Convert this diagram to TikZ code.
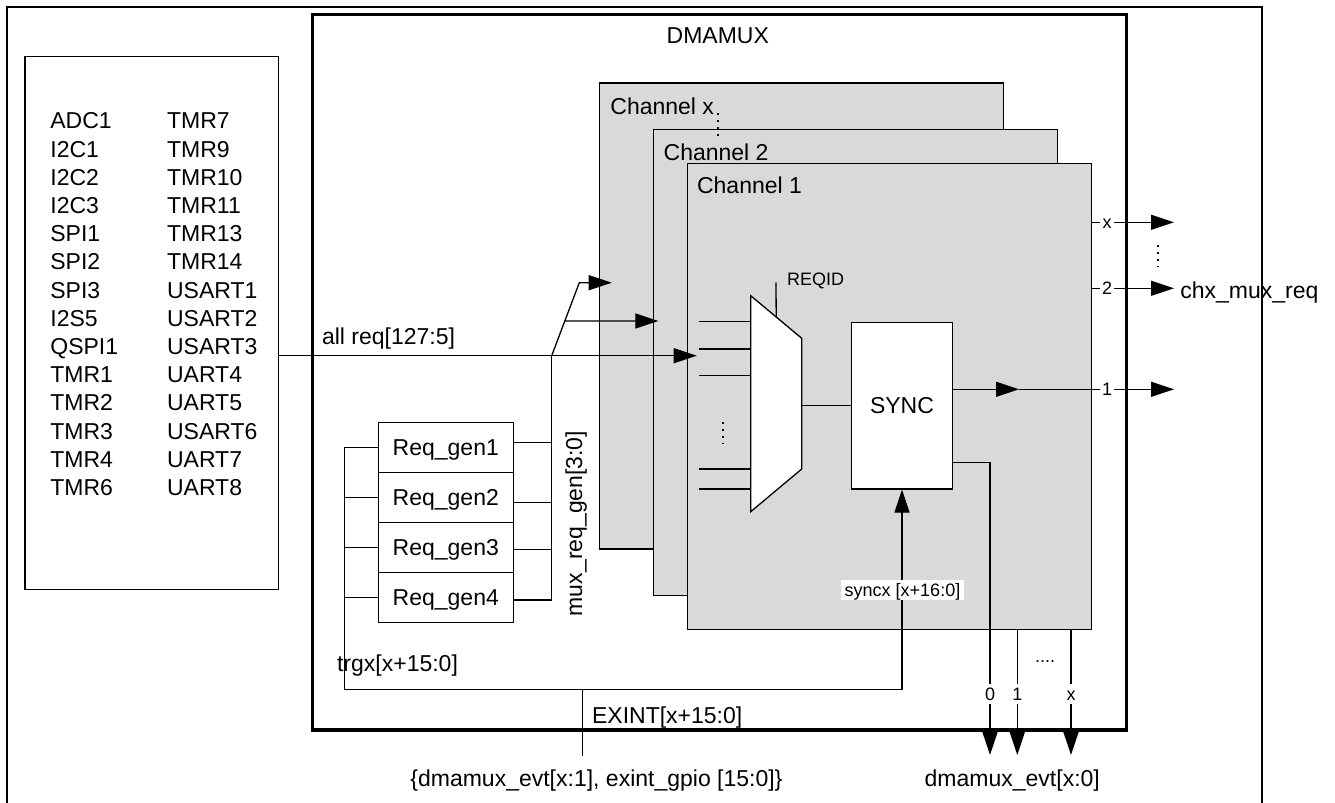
\documentclass[tikz,border=0pt]{standalone}
\usepackage{fontspec}
\setmainfont{Liberation Sans}
\usetikzlibrary{arrows.meta,calc}

\definecolor{chgray}{RGB}{217,217,217}

\tikzset{
  txt/.style={font=\fontsize{11.5}{13}\selectfont, inner sep=0pt, text height=8.2pt, text depth=0pt},
  smalltxt/.style={font=\fontsize{9}{10}\selectfont, inner sep=0pt, text height=6.4pt, text depth=0pt},
  wire/.style={line width=0.65pt},
  arr/.style={wire, -{Triangle[length=11.5pt,width=7.5pt]}},
  vdots/.style={line width=1pt, dash pattern=on 0.9pt off 2.6pt},
  chbox/.style={draw, fill=chgray, line width=0.65pt, minimum width=202pt, minimum height=233pt, anchor=north west, inner sep=0pt},
  genbox/.style={draw, line width=0.65pt, minimum width=67.5pt, minimum height=25pt, txt},
}

\begin{document}
\begin{tikzpicture}[x=0.5pt,y=-0.5pt]
\useasboundingbox (0,0) rectangle (1335,803);
% outer frame
\draw[line width=1pt] (7,815) -- (7,7) -- (1262,7) -- (1262,815);
% request sources
\node[draw, line width=0.65pt, minimum width=126.7pt, minimum height=266.65pt, anchor=north west, inner sep=0pt] (srcs) at (24.3,55.7) {};
\foreach \a/\b [count=\i from 0] in {ADC1/TMR7, I2C1/TMR9, I2C2/TMR10, I2C3/TMR11, SPI1/TMR13, SPI2/TMR14, SPI3/USART1, I2S5/USART2, QSPI1/USART3, TMR1/UART4, TMR2/UART5, TMR3/USART6, TMR4/UART7, TMR6/UART8} {
  \node[txt, anchor=west] (srca\i) at (50,{120.7+28.2*\i}) {\a};
  \node[txt, anchor=west] (srcb\i) at (166.7,{120.7+28.2*\i}) {\b};
}
% DMAMUX block
\node[draw, line width=1.6pt, minimum width=407.15pt, minimum height=357.8pt, anchor=north west, inner sep=0pt] (dmamux) at (310.7,12.7) {};
\node[txt] (dmamuxlbl) at (717.8,35) {DMAMUX};
% channels
\node[chbox] (chx) at (599,82.3) {};
\node[txt, anchor=west] (chxlbl) at (610,106) {Channel x};
\node[chbox] (ch2) at (652.7,129) {};
\node[txt, anchor=west] (ch2lbl) at (663.3,152.3) {Channel 2};
\draw[vdots] (718.3,113) -- (718.3,137);
\node[chbox] (ch1) at (686.7,162.7) {};
\node[txt, anchor=west] (ch1lbl) at (696.7,185) {Channel 1};
% mux
\coordinate (mxa) at (750.7,295.7);
\coordinate (mxb) at (801.7,338.3);
\coordinate (mxc) at (801.7,469);
\coordinate (mxd) at (750.7,511.7);
\draw[wire, fill=white] (mxa) -- (mxb) -- (mxc) -- (mxd) -- cycle;
\foreach \y [count=\i] in {321.7,349,375.7,469,489} {
  \coordinate (muxin\i) at (699.3,\y);
  \draw[wire] (muxin\i) -- (muxin\i -| mxa);
}
\draw[vdots] (722.7,422) -- (722.7,444);
\coordinate (reqidtop) at (776,282.3);
\draw[wire] (reqidtop) -- ($(mxa)!0.5!(mxb)$);
\node[smalltxt, anchor=west] (reqid) at (786.7,279.3) {REQID};
% sync
\node[draw, wire, fill=white, minimum width=50.3pt, minimum height=83.35pt, txt] (sync) at (902,405.65) {SYNC};
\coordinate (mxout) at (801.7,405.65);
\draw[wire] (mxout) -- (sync.west);
% channel outputs
\coordinate (o1a) at (1019,389.3);
\node[smalltxt, inner sep=1pt] (outx) at (1107,222.3) {x};
\node[smalltxt, inner sep=1pt] (out2) at (1107,288.3) {2};
\node[smalltxt, inner sep=1pt] (out1) at (1107,389.3) {1};
\coordinate (tipx) at (1174,222.3);
\coordinate (tip2) at (1174,288.3);
\coordinate (tip1) at (1174,389.3);
\draw[arr] (sync.east |- o1a) -- (o1a);
\draw[wire] (o1a) -- (out1);
\draw[arr] (out1) -- (tip1);
\draw[wire] (ch1.east |- outx) -- (outx);
\draw[arr] (outx) -- (tipx);
\draw[wire] (ch1.east |- out2) -- (out2);
\draw[arr] (out2) -- (tip2);
\draw[vdots] (1158,245) -- (1158,267);
\node[txt, anchor=west] (chxreq) at (1180,290) {chx\_mux\_req};
% event outputs
\coordinate (e0) at (990,462.3);
\node[smalltxt, inner sep=1.5pt] (evt0) at (990,694) {0};
\node[smalltxt, inner sep=1.5pt] (evt1) at (1017.3,694) {1};
\node[smalltxt, inner sep=1.5pt] (evtx) at (1071,694) {x};
\draw[wire] (sync.east |- e0) -- (e0) -- (evt0);
\draw[arr] (evt0) -- (990,755);
\draw[wire] (evt1 |- ch1.south) -- (evt1);
\draw[arr] (evt1) -- (1017.3,755);
\draw[wire] (evtx |- ch1.south) -- (evtx);
\draw[arr] (evtx) -- (1071,755);
\node[smalltxt, anchor=base] (evtdots) at (1045,662) {....};
\node[txt, anchor=west] (evtout) at (924.3,778) {dmamux\_evt[x:0]};
% request generators
\foreach \i in {1,...,4} {
  \node[genbox] (gen\i) at (445.8,{397.3+50*\i}) {Req\_gen\i};
}
\coordinate (busl) at (344.3,447.3);
\coordinate (buslb) at (344.3,689.3);
\draw[arr] (busl) -- (buslb) -- (sync.south |- buslb) -- (sync.south);
\foreach \i in {2,3,4} \draw[wire] (gen\i.west) -- (gen\i.west -| busl);
\draw[wire] (busl) -- (gen1.west);
\coordinate (mrgtop) at (551.7,355.7);
\coordinate (mrgbot) at (551.7,600);
\foreach \i/\y in {1/442.3, 2/502.7, 3/549.3, 4/600} \draw[wire] (gen\i.east |- 0,\y) -- (mrgtop |- 0,\y);
\draw[wire] (mrgbot) -- (mrgtop);
\node[txt, rotate=90] (mrglbl) at (574,523.5) {mux\_req\_gen[3:0]};
\node[txt, anchor=west] (trgx) at (336.7,663.3) {trgx[x+15:0]};
% requests into channels
\coordinate (brk) at (579.3,282.7);
\coordinate (brm) at ($(mrgtop)!0.475!(brk)$);
\coordinate (chxin) at (611.7,282.7);
\coordinate (ch2in) at (658.3,321);
\coordinate (ch1in) at (696.7,355.7);
\draw[arr] (mrgtop) -- (brk) -- (chxin);
\draw[arr] (brm) -- (ch2in);
\draw[arr] (srcs.east |- mrgtop) -- (ch1in);
\node[txt, anchor=west] (allreq) at (321.7,336.7) {all req[127:5]};
% EXINT
\coordinate (exintt) at (582.3,689.3);
\coordinate (exintb) at (582.3,756);
\draw[wire] (exintt) -- (exintb);
\node[txt, anchor=west] (exint) at (591.7,715) {EXINT[x+15:0]};
\node[smalltxt, fill=white, inner sep=2pt] (syncxlbl) at (902.5,590) {syncx [x+16:0]};
\node[txt, anchor=west] (evtin) at (410,778) {\{dmamux\_evt[x:1], exint\_gpio [15:0]\}};
\end{tikzpicture}
\end{document}
